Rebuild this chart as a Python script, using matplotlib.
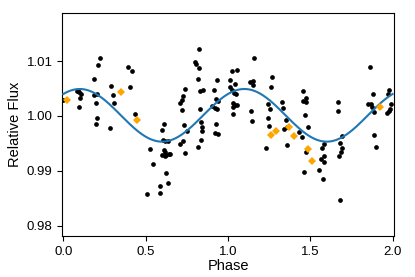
import numpy as np
import matplotlib
matplotlib.use('Agg')
import matplotlib.pyplot as plt

plt.rcParams['font.family'] = ['Liberation Sans', 'DejaVu Sans']

# black points: phase, relative flux
phase_k = [0.000, 0.081, 0.091, 0.097, 0.107, 0.103, 0.094, 0.185, 0.205, 0.197,
           0.203, 0.197, 0.188, 0.209, 0.223, 0.288, 0.302, 0.306, 0.284, 0.391,
           0.417, 0.405, 0.436, 0.510, 0.529, 0.543, 0.587, 0.589, 0.625, 0.634,
           0.597, 0.613, 0.605, 0.617, 0.634, 0.610, 0.616, 0.642, 0.650, 0.601,
           0.619, 0.625,
           0.709, 0.721, 0.727, 0.742, 0.719, 0.731, 0.753, 0.712, 0.729, 0.740,
           0.820, 0.838, 0.840, 0.845, 0.836, 0.830, 0.828, 0.848, 0.816, 0.827,
           0.798, 0.805, 0.822, 0.918, 0.932, 0.927, 0.942, 0.906, 0.919, 0.931,
           0.925, 0.919, 0.942,
           1.010, 1.026, 1.056, 1.044, 1.013, 1.022, 1.038, 1.047, 1.029, 1.041,
           1.055, 1.032, 1.033, 1.137, 1.150, 1.155, 1.160, 1.140, 1.144, 1.265,
           1.261, 1.243, 1.255, 1.246, 1.252, 1.233, 1.328, 1.332, 1.355, 1.342,
           1.356, 1.358, 1.457, 1.455, 1.474, 1.477, 1.468, 1.484, 1.433, 1.452,
           1.474, 1.460,
           1.556, 1.577, 1.574, 1.585, 1.568, 1.583, 1.582, 1.670, 1.667, 1.680,
           1.695, 1.695, 1.688, 1.677, 1.682, 1.861, 1.883, 1.853, 1.870, 1.877,
           1.888, 1.886, 1.902, 1.976, 1.971, 1.991, 1.985, 1.976, 1.967]
flux_k = [1.0029, 1.0045, 1.0045, 1.0044, 1.0040, 1.0032, 1.0016, 1.0038, 1.0039, 1.0024,
          0.9996, 0.9986, 1.0068, 1.0093, 1.0106, 1.0055, 1.0038, 1.0023, 0.9978, 1.0089,
          1.0081, 1.0052, 1.0004, 0.9858, 0.9940, 0.9913, 0.9872, 0.9859, 0.9896, 0.9878,
          0.9975, 0.9986, 0.9956, 0.9955, 0.9954, 0.9937, 0.9934, 0.9931, 0.9930, 0.9928,
          0.9926, 0.9929,
          1.0023, 1.0029, 1.0036, 1.0049, 1.0010, 0.9984, 0.9973, 0.9949, 0.9954, 0.9933,
          0.9943, 0.9956, 0.9973, 0.9979, 0.9988, 1.0012, 1.0046, 1.0047, 1.0068, 1.0088,
          1.0098, 1.0095, 1.0122, 1.0047, 1.0066, 1.0031, 1.0027, 1.0018, 1.0015, 1.0013,
          0.9985, 0.9968, 0.9967,
          1.0066, 1.0081, 1.0083, 1.0058, 1.0053, 1.0047, 1.0042, 1.0039, 1.0023, 1.0020,
          1.0020, 1.0016, 1.0004, 1.0061, 1.0064, 1.0057, 1.0105, 1.0009, 0.9991, 1.0070,
          1.0052, 1.0021, 1.0012, 0.9996, 0.9982, 0.9941, 1.0026, 1.0014, 0.9992, 0.9976,
          0.9980, 0.9947, 1.0046, 1.0028, 1.0026, 1.0033, 1.0002, 0.9980, 0.9970, 0.9961,
          0.9934, 0.9897,
          0.9901, 0.9885, 0.9942, 0.9948, 0.9922, 0.9915, 0.9927, 1.0025, 1.0008, 0.9950,
          0.9963, 0.9942, 0.9935, 0.9926, 0.9847, 1.0090, 1.0040, 1.0022, 1.0022, 1.0017,
          1.0007, 0.9966, 0.9943, 1.0047, 1.0039, 1.0022, 1.0013, 1.0008, 1.0006]

# orange points
phase_o = [0.021, 0.350, 0.446, 1.264, 1.291, 1.372, 1.400, 1.486, 1.510, 1.923]
flux_o = [1.0029, 1.0043, 0.9992, 0.9966, 0.9973, 0.9980, 0.9963, 0.9940, 0.9918, 1.0016]

# sinusoid model
offset = 1.0001
amp = 0.0048
peak = 0.10

ph = np.linspace(0, 2, 400)
model = offset + amp * np.cos(2 * np.pi * (ph - peak))

fig = plt.figure(figsize=(4.15, 2.77), dpi=100)
ax = fig.add_axes([0.150, 0.148, 0.800, 0.804])

ax.plot(phase_k, flux_k, 'o', color='k', ms=3.4, mew=0, zorder=2)
ax.plot(ph, model, color='#1f77b4', lw=1.5, zorder=3)
ax.plot(phase_o, flux_o, 'D', color='orange', ms=4, mew=0, zorder=4)

ax.set_xlim(-0.006, 2.01)
ax.set_ylim(0.9781, 1.0187)
ax.set_xticks([0.0, 0.5, 1.0, 1.5, 2.0])
ax.set_yticks([0.98, 0.99, 1.00, 1.01])
ax.set_xticklabels(['0.0', '0.5', '1.0', '1.5', '2.0'])
ax.set_yticklabels(['0.98', '0.99', '1.00', '1.01'])
ax.tick_params(labelsize=9.5, length=3.5, width=0.8)
ax.set_xlabel('Phase', fontsize=10.5, labelpad=1)
ax.set_ylabel('Relative Flux', fontsize=10.5, labelpad=3)

fig.savefig('out.png', dpi=100)
